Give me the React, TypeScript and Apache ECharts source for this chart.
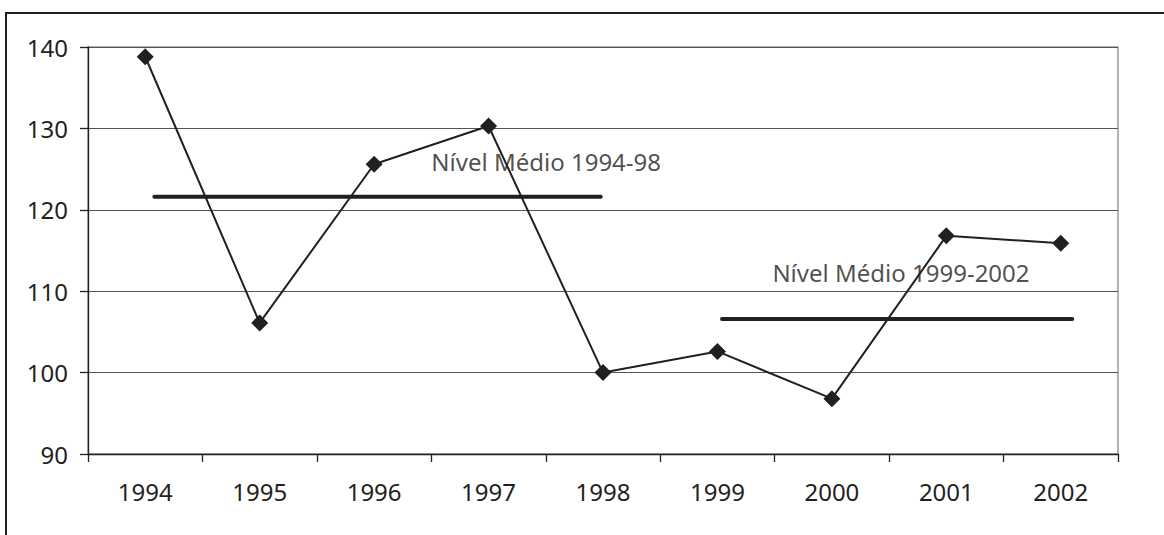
import React, { useEffect, useRef } from "react";
import * as echarts from "echarts";

const years = ["1994", "1995", "1996", "1997", "1998", "1999", "2000", "2001", "2002"];
const values = [138.8, 106.1, 125.6, 130.3, 100.0, 102.6, 96.8, 116.8, 115.9];
const yTicks = { min: 90, max: 140, interval: 10 };
// average level segments, x in category-index units
const mean1 = [[0.08, 121.6], [3.98, 121.6]];
const mean2 = [[5.04, 106.6], [8.1, 106.6]];
const meanLabels = [
  { name: "Nível Médio 1994-98", value: [2.5, 125.9] },
  { name: "Nível Médio 1999-2002", value: [5.48, 112.3] },
];

const INK = "#231f20";
const FONT = "Noto Sans";

export default function App() {
  const ref = useRef<HTMLDivElement>(null);
  useEffect(() => {
    if (!ref.current) return;
    const chart = echarts.init(ref.current, undefined, { renderer: "svg" });
    chart.setOption({
      animation: false,
      backgroundColor: "#ffffff",
      textStyle: { fontFamily: FONT, color: INK },
      graphic: [
        {
          type: "rect",
          shape: { x: 6, y: 13, width: 1300, height: 700 },
          style: { fill: "none", stroke: INK, lineWidth: 2 },
          silent: true,
        },
      ],
      grid: {
        left: 88,
        right: 46,
        top: 47,
        bottom: 81,
        show: true,
        borderColor: "#999999",
        borderWidth: 1.5,
      },
      xAxis: [
        {
          type: "category",
          data: years,
          boundaryGap: true,
          axisLine: { lineStyle: { color: INK, width: 1.3 } },
          axisTick: { show: true, length: 8, lineStyle: { color: INK, width: 1.3 } },
          axisLabel: { fontFamily: FONT, fontSize: 24, color: INK, margin: 25 },
          splitLine: { show: false },
        },
        {
          type: "value",
          min: -0.5,
          max: 8.5,
          show: false,
        },
      ],
      yAxis: {
        type: "value",
        min: yTicks.min,
        max: yTicks.max,
        interval: yTicks.interval,
        axisLine: { show: true, onZero: false, lineStyle: { color: INK, width: 1.3 } },
        axisTick: { show: true, length: 8, lineStyle: { color: INK, width: 1.3 } },
        axisLabel: { fontFamily: FONT, fontSize: 24, color: INK, margin: 20 },
        splitLine: { show: true, lineStyle: { color: "#555555", width: 1.2 } },
      },
      series: [
        {
          type: "line",
          xAxisIndex: 1,
          data: mean1,
          symbol: "none",
          lineStyle: { color: INK, width: 4, cap: "round" },
          z: 2,
        },
        {
          type: "line",
          xAxisIndex: 1,
          data: mean2,
          symbol: "none",
          lineStyle: { color: INK, width: 4, cap: "round" },
          z: 2,
        },
        {
          type: "line",
          data: values,
          symbol: "diamond",
          symbolSize: 17,
          lineStyle: { color: INK, width: 2 },
          itemStyle: { color: INK, borderWidth: 0 },
          z: 3,
        },
        {
          type: "scatter",
          xAxisIndex: 1,
          data: meanLabels,
          symbolSize: 0,
          label: {
            show: true,
            position: "right",
            distance: 0,
            formatter: (p: any) => p.name,
            fontFamily: FONT,
            fontSize: 24,
            color: INK,
            verticalAlign: "middle",
          },
          z: 1,
        },
      ],
    });
    return () => chart.dispose();
  }, []);
  return (
    <div
      ref={ref}
      style={{ position: "absolute", left: 0, top: 0, width: 1164, height: 535 }}
    />
  );
}
